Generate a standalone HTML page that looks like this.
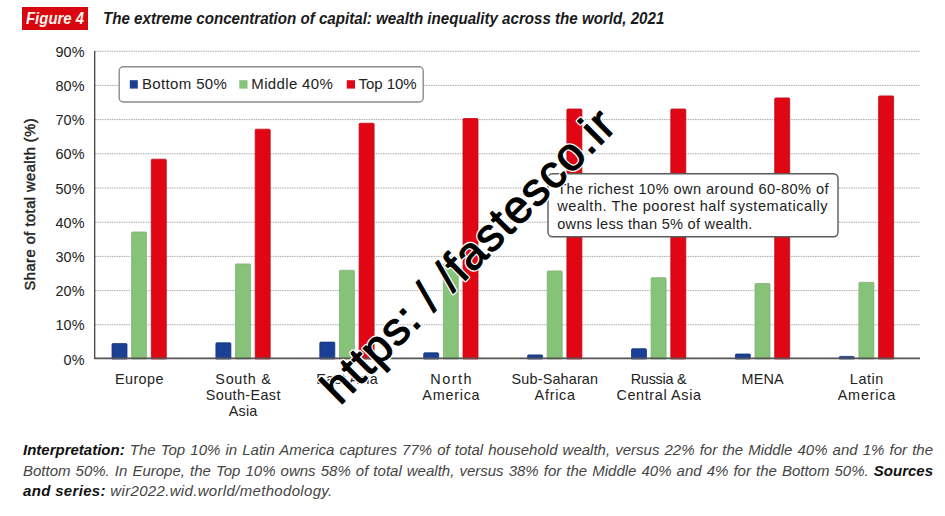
<!DOCTYPE html>
<html><head><meta charset="utf-8"><title>Figure 4</title>
<style>
html,body{margin:0;padding:0;background:#fff;}
body{width:945px;height:516px;position:relative;overflow:hidden;font-family:"Liberation Sans",sans-serif;}
#badge{position:absolute;left:22.3px;top:6.9px;width:65.6px;height:23.1px;background:#d9060f;color:#fff4ec;font-weight:bold;font-style:italic;font-size:16.6px;line-height:23.6px;white-space:nowrap;}
#badge span{position:absolute;left:4px;top:0;display:inline-block;transform-origin:0 0;transform:scaleX(0.9);}
#title{position:absolute;left:103.2px;top:7.4px;white-space:nowrap;font-weight:bold;font-style:italic;font-size:16.4px;line-height:22px;color:#1a1a1a;transform-origin:0 0;transform:scaleX(0.9225);}
#cap{position:absolute;left:23px;top:439.8px;width:910px;font-style:italic;font-size:15px;line-height:20.7px;color:#444;text-align:justify;transform-origin:0 0;}
#cap b{color:#111;}
#cap .ll{letter-spacing:0.33px;}
svg{position:absolute;left:0;top:0;}
svg text{font-family:"Liberation Sans",sans-serif;}
</style></head><body>
<div id="badge"><span>Figure 4</span></div>
<div id="title">The extreme concentration of capital: wealth inequality across the world, 2021</div>
<svg width="945" height="516" viewBox="0 0 945 516">
<g stroke="#a2a2a2" stroke-width="0.9" stroke-dasharray="1.5 0.9" fill="none">
<line x1="95" x2="920" y1="324.8" y2="324.8"/>
<line x1="95" x2="920" y1="290.6" y2="290.6"/>
<line x1="95" x2="920" y1="256.4" y2="256.4"/>
<line x1="95" x2="920" y1="222.2" y2="222.2"/>
<line x1="95" x2="920" y1="188.0" y2="188.0"/>
<line x1="95" x2="920" y1="153.8" y2="153.8"/>
<line x1="95" x2="920" y1="119.6" y2="119.6"/>
<line x1="95" x2="920" y1="85.4" y2="85.4"/>
<line x1="95" x2="920" y1="51.2" y2="51.2"/>
</g>
<g id="bars">
<path d="M112.0 359.0 V344.6 q0 -1 1 -1 H126.0 q1 0 1 1 V359.0 Z" fill="#1b3f94" stroke="#173680" stroke-width="0.8"/>
<path d="M131.6 359.0 V233.0 q0 -1 1 -1 H145.6 q1 0 1 1 V359.0 Z" fill="#86c278" stroke="#84b077" stroke-width="0.8"/>
<path d="M151.3 359.0 V160.2 q0 -1 1 -1 H165.3 q1 0 1 1 V359.0 Z" fill="#e00613" stroke="#bb0e18" stroke-width="0.8"/>
<path d="M215.9 359.0 V343.8 q0 -1 1 -1 H229.9 q1 0 1 1 V359.0 Z" fill="#1b3f94" stroke="#173680" stroke-width="0.8"/>
<path d="M235.5 359.0 V264.9 q0 -1 1 -1 H249.5 q1 0 1 1 V359.0 Z" fill="#86c278" stroke="#84b077" stroke-width="0.8"/>
<path d="M255.2 359.0 V130.2 q0 -1 1 -1 H269.2 q1 0 1 1 V359.0 Z" fill="#e00613" stroke="#bb0e18" stroke-width="0.8"/>
<path d="M319.8 359.0 V343.1 q0 -1 1 -1 H333.8 q1 0 1 1 V359.0 Z" fill="#1b3f94" stroke="#173680" stroke-width="0.8"/>
<path d="M339.4 359.0 V271.3 q0 -1 1 -1 H353.4 q1 0 1 1 V359.0 Z" fill="#86c278" stroke="#84b077" stroke-width="0.8"/>
<path d="M359.1 359.0 V124.2 q0 -1 1 -1 H373.1 q1 0 1 1 V359.0 Z" fill="#e00613" stroke="#bb0e18" stroke-width="0.8"/>
<path d="M423.7 359.0 V353.8 q0 -1 1 -1 H437.7 q1 0 1 1 V359.0 Z" fill="#1b3f94" stroke="#173680" stroke-width="0.8"/>
<path d="M443.3 359.0 V265.0 q0 -1 1 -1 H457.3 q1 0 1 1 V359.0 Z" fill="#86c278" stroke="#84b077" stroke-width="0.8"/>
<path d="M463.0 359.0 V119.5 q0 -1 1 -1 H477.0 q1 0 1 1 V359.0 Z" fill="#e00613" stroke="#bb0e18" stroke-width="0.8"/>
<path d="M527.6 359.0 V355.9 q0 -1 1 -1 H541.6 q1 0 1 1 V359.0 Z" fill="#1b3f94" stroke="#173680" stroke-width="0.8"/>
<path d="M547.2 359.0 V271.9 q0 -1 1 -1 H561.2 q1 0 1 1 V359.0 Z" fill="#86c278" stroke="#84b077" stroke-width="0.8"/>
<path d="M566.9 359.0 V110.0 q0 -1 1 -1 H580.9 q1 0 1 1 V359.0 Z" fill="#e00613" stroke="#bb0e18" stroke-width="0.8"/>
<path d="M631.5 359.0 V349.7 q0 -1 1 -1 H645.5 q1 0 1 1 V359.0 Z" fill="#1b3f94" stroke="#173680" stroke-width="0.8"/>
<path d="M651.1 359.0 V278.7 q0 -1 1 -1 H665.1 q1 0 1 1 V359.0 Z" fill="#86c278" stroke="#84b077" stroke-width="0.8"/>
<path d="M670.8 359.0 V110.0 q0 -1 1 -1 H684.8 q1 0 1 1 V359.0 Z" fill="#e00613" stroke="#bb0e18" stroke-width="0.8"/>
<path d="M735.4 359.0 V355.0 q0 -1 1 -1 H749.4 q1 0 1 1 V359.0 Z" fill="#1b3f94" stroke="#173680" stroke-width="0.8"/>
<path d="M755.0 359.0 V284.5 q0 -1 1 -1 H769.0 q1 0 1 1 V359.0 Z" fill="#86c278" stroke="#84b077" stroke-width="0.8"/>
<path d="M774.7 359.0 V98.9 q0 -1 1 -1 H788.7 q1 0 1 1 V359.0 Z" fill="#e00613" stroke="#bb0e18" stroke-width="0.8"/>
<path d="M839.3 359.0 V357.4 q0 -1 1 -1 H853.3 q1 0 1 1 V359.0 Z" fill="#1b3f94" stroke="#173680" stroke-width="0.8"/>
<path d="M858.9 359.0 V283.3 q0 -1 1 -1 H872.9 q1 0 1 1 V359.0 Z" fill="#86c278" stroke="#84b077" stroke-width="0.8"/>
<path d="M878.6 359.0 V96.9 q0 -1 1 -1 H892.6 q1 0 1 1 V359.0 Z" fill="#e00613" stroke="#bb0e18" stroke-width="0.8"/>
</g>
<line x1="94.7" x2="94.7" y1="51" y2="359" stroke="#444" stroke-width="1.3"/>
<line x1="94" x2="920" y1="358.4" y2="358.4" stroke="#555" stroke-width="1.6"/>
<g font-size="14.4" fill="#222" text-anchor="end" letter-spacing="0.1">
<text x="84.6" y="364.6">0%</text>
<text x="84.6" y="330.4">10%</text>
<text x="84.6" y="296.2">20%</text>
<text x="84.6" y="262.0">30%</text>
<text x="84.6" y="227.8">40%</text>
<text x="84.6" y="193.6">50%</text>
<text x="84.6" y="159.4">60%</text>
<text x="84.6" y="125.2">70%</text>
<text x="84.6" y="91.0">80%</text>
<text x="84.6" y="56.8">90%</text>
</g>
<g font-size="14.4" fill="#222">
<text x="115.0" y="383.6" textLength="48.4" lengthAdjust="spacing">Europe</text>
<text x="215.3" y="383.6" textLength="55.6" lengthAdjust="spacing">South &amp;</text>
<text x="205.8" y="399.8" textLength="74.6" lengthAdjust="spacing">South-East</text>
<text x="228.8" y="416.0" textLength="28.5" lengthAdjust="spacing">Asia</text>
<text x="316.2" y="383.6" textLength="61.5" lengthAdjust="spacing">East Asia</text>
<text x="430.2" y="383.6" textLength="41.4" lengthAdjust="spacing">North</text>
<text x="422.3" y="399.8" textLength="57.3" lengthAdjust="spacing">America</text>
<text x="511.6" y="383.6" textLength="86.4" lengthAdjust="spacing">Sub-Saharan</text>
<text x="534.6" y="399.8" textLength="40.4" lengthAdjust="spacing">Africa</text>
<text x="630.7" y="383.6" textLength="56.0" lengthAdjust="spacing">Russia &amp;</text>
<text x="616.4" y="399.8" textLength="84.6" lengthAdjust="spacing">Central Asia</text>
<text x="741.6" y="383.6" textLength="42.0" lengthAdjust="spacing">MENA</text>
<text x="849.8" y="383.6" textLength="33.5" lengthAdjust="spacing">Latin</text>
<text x="837.7" y="399.8" textLength="57.6" lengthAdjust="spacing">America</text>
</g>
<text transform="translate(35.2,204.4) rotate(-90)" font-size="14.6" fill="#222" stroke="#222" stroke-width="0.45" x="-86" textLength="172" lengthAdjust="spacing">Share of total wealth (%)</text>
<!-- legend -->
<rect x="119.2" y="66.8" width="304" height="35.2" rx="4" ry="4" fill="#fff" stroke="#8c8c8c" stroke-width="1.4"/>
<rect x="129.8" y="80.2" width="8" height="8.4" fill="#1b3f94"/>
<rect x="239.3" y="80.2" width="8.2" height="8.4" fill="#86c278"/>
<rect x="346.8" y="80.2" width="8.2" height="8.4" fill="#e00613"/>
<g font-size="15" fill="#222">
<text x="142" y="89.4" textLength="84.9" lengthAdjust="spacing">Bottom 50%</text>
<text x="251.3" y="89.4" textLength="81.5" lengthAdjust="spacing">Middle 40%</text>
<text x="358.5" y="89.4" textLength="58.1" lengthAdjust="spacing">Top 10%</text>
</g>
<!-- annotation -->
<rect x="548" y="173.8" width="290" height="63" rx="4.5" ry="4.5" fill="#fff" stroke="#5a5a5a" stroke-width="1.4"/>
<g font-size="14.6" fill="#222">
<text x="557.2" y="194.2" textLength="271.3" lengthAdjust="spacing">The richest 10% own around 60-80% of</text>
<text x="557.2" y="211.4" textLength="270.3" lengthAdjust="spacing">wealth. The poorest half systematically</text>
<text x="557.2" y="228.7" textLength="195.2" lengthAdjust="spacing">owns less than 5% of wealth.</text>
</g>
<text transform="translate(339.9 405.9) rotate(-45)" font-size="46" textLength="393" lengthAdjust="spacing" fill="#fff" stroke="#fff" stroke-width="3.7" stroke-linejoin="round" xml:space="preserve" style="white-space:pre">https: / /fastesco.ir</text>
<text transform="translate(339.9 405.9) rotate(-45)" font-size="46" textLength="393" lengthAdjust="spacing" fill="#000" stroke="#000" stroke-width="1.2" stroke-linejoin="round" xml:space="preserve" style="white-space:pre">https: / /fastesco.ir</text>
</svg>
<div id="cap"><b>Interpretation:</b> The Top 10% in Latin America captures 77% of total household wealth, versus 22% for the Middle 40% and 1% for the Bottom 50%. In Europe, the Top 10% owns 58% of total wealth, versus 38% for the Middle 40% and 4% for the Bottom 50%. <b>Sources</b> <span class="ll"><b>and series:</b> wir2022.wid.world/methodology.</span></div>
</body></html>
